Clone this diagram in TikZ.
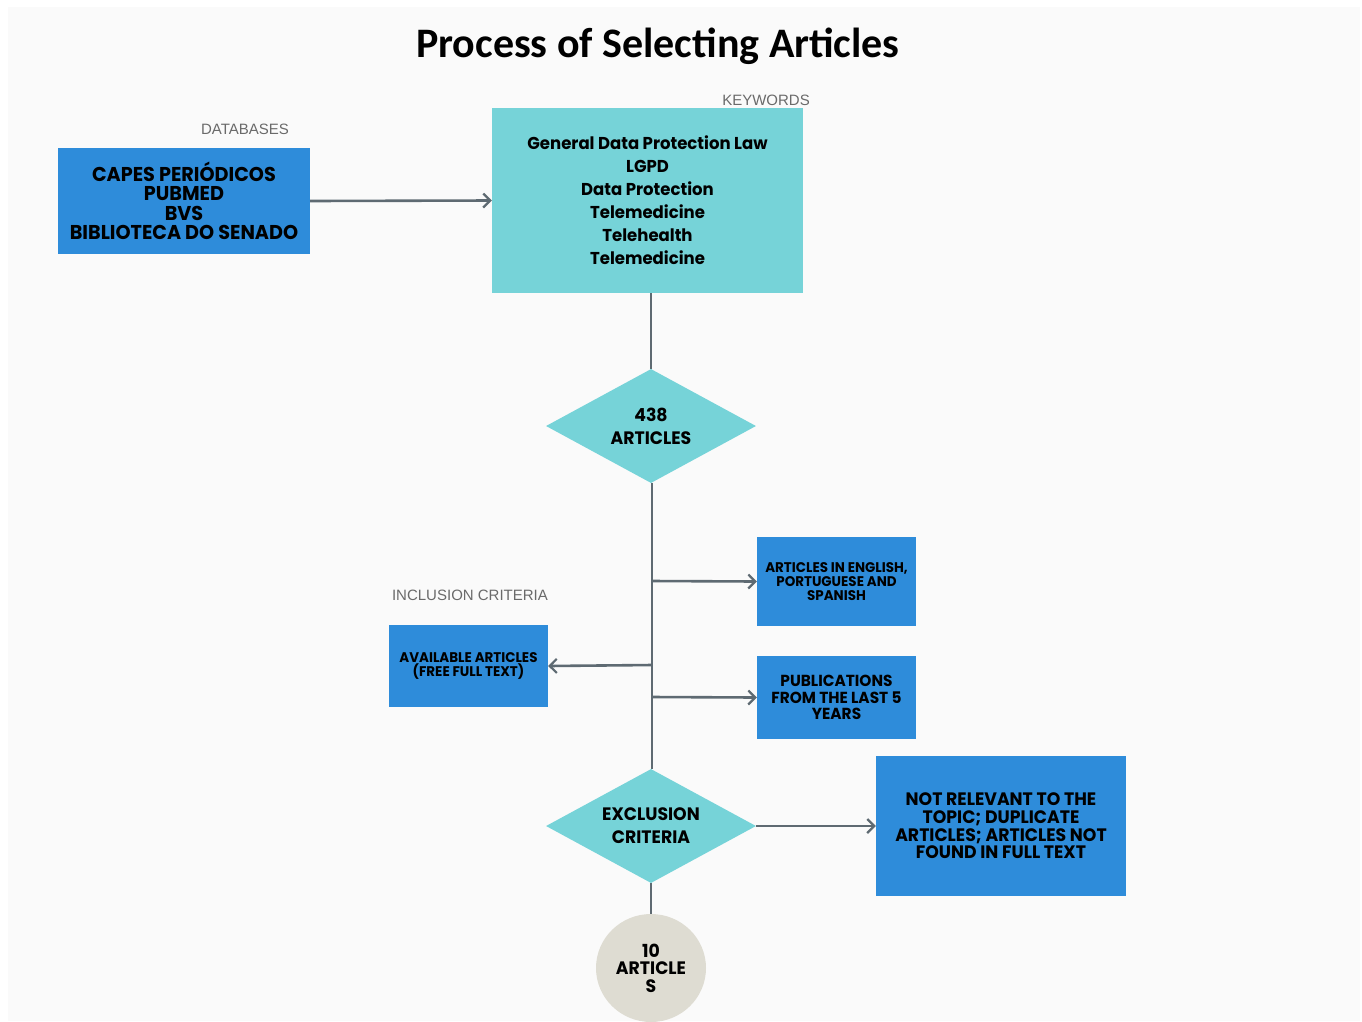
\documentclass[tikz,border=0pt]{standalone}
\usepackage{fontspec}
\setmainfont{Liberation Sans}
\newfontfamily\titlefont{Carlito}
\newfontfamily\boxfont{Poppins}[FakeStretch=0.96]
\usetikzlibrary{shapes.geometric,arrows.meta}
\definecolor{bg}{HTML}{FAFAFA}
\definecolor{boxblue}{HTML}{2E8CDA}
\definecolor{teal}{HTML}{76D3D8}
\definecolor{circ}{HTML}{DEDCD2}
\definecolor{conn}{HTML}{5E6A72}
\definecolor{lbl}{HTML}{6A6A6A}
\begin{document}
\begin{tikzpicture}[x=1pt,y=-1pt,
  bluebox/.style={rectangle,fill=boxblue,inner sep=0pt,align=center,text=black},
  tealbox/.style={rectangle,fill=teal,inner sep=0pt,align=center,text=black},
  dia/.style={diamond,fill=teal,inner sep=0pt,shape aspect=1.84,minimum width=210pt,minimum height=114pt,align=center,text=black},
  lab/.style={text=lbl,inner sep=0pt,font=\fontsize{15}{17}\selectfont},
  conline/.style={draw=conn,line width=2.6pt},
  conarrow/.style={conline,-{Straight Barb[length=7pt,width=14pt,line width=2.2pt]}},
]
\useasboundingbox (0,0) rectangle (1362,1021);
\fill[white] (0,0) rectangle (1362,1021);
\fill[bg] (8,7) rectangle (1360,1021);

\node[inner sep=0pt,font=\titlefont\bfseries\fontsize{42}{46}\selectfont] (title) at (658,46) {Process of Selecting Articles};

\node[lab] (dblab) at (245,129) {DATABASES};
\node[lab] (kwlab) at (766,100) {KEYWORDS};
\node[lab] (inclab) at (470,595) {INCLUSION CRITERIA};

\node[bluebox,minimum width=252pt,minimum height=106pt,font=\boxfont\bfseries\fontsize{20}{19.5}\selectfont] (db) at (184,201)
  {CAPES PERIÓDICOS\\PUBMED\\BVS\\BIBLIOTECA DO SENADO};

\node[tealbox,minimum width=311pt,minimum height=185pt,font=\boxfont\bfseries\fontsize{17.2}{23}\selectfont] (kw) at (647.5,200.5)
  {General Data Protection Law\\LGPD\\Data Protection\\Telemedicine\\Telehealth\\Telemedicine};

\node[dia,font=\boxfont\bfseries\fontsize{18}{23}\selectfont] (d1) at (651,426) {438\\ARTICLES};

\node[bluebox,minimum width=159pt,minimum height=89pt,font=\boxfont\bfseries\fontsize{14}{14}\selectfont] (inc1) at (836.5,581.5)
  {ARTICLES IN ENGLISH,\\PORTUGUESE AND\\SPANISH};
\node[bluebox,minimum width=159pt,minimum height=82pt,font=\boxfont\bfseries\fontsize{14}{14}\selectfont] (avail) at (468.5,666)
  {AVAILABLE ARTICLES\\(FREE FULL TEXT)};
\node[bluebox,minimum width=159pt,minimum height=83pt,font=\boxfont\bfseries\fontsize{16}{16.5}\selectfont] (pub) at (836.5,697.5)
  {PUBLICATIONS\\FROM THE LAST 5\\YEARS};

\node[dia,font=\boxfont\bfseries\fontsize{18}{23}\selectfont] (d2) at (651,826) {EXCLUSION\\CRITERIA};

\node[bluebox,minimum width=250pt,minimum height=140pt,font=\boxfont\bfseries\fontsize{18}{17.7}\selectfont] (excl) at (1001,826)
  {NOT RELEVANT TO THE\\TOPIC; DUPLICATE\\ARTICLES; ARTICLES NOT\\FOUND IN FULL TEXT};

\node[ellipse,fill=circ,inner sep=0pt,minimum width=110pt,minimum height=108pt,align=center,font=\boxfont\bfseries\fontsize{18}{17.5}\selectfont] (res) at (651,968)
  {10\\ARTICLE\\S};

\coordinate (b1) at (652,581);
\coordinate (b2) at (652,665);
\coordinate (b3) at (652,697);

\draw[conarrow] (db.east) -- (kw.west);
\draw[conline] (kw.south -| d1.north) -- (d1.north);
\draw[conline] ([xshift=1pt]d1.south) -- ([xshift=1pt]d2.north);
\draw[conarrow] (b1) -- (inc1.west);
\draw[conarrow] (b2) -- (avail.east);
\draw[conarrow] (b3) -- (pub.west);
\draw[conarrow] (d2.east) -- (excl.west);
\draw[conline] (d2.south) -- (res.north);
\end{tikzpicture}
\end{document}
